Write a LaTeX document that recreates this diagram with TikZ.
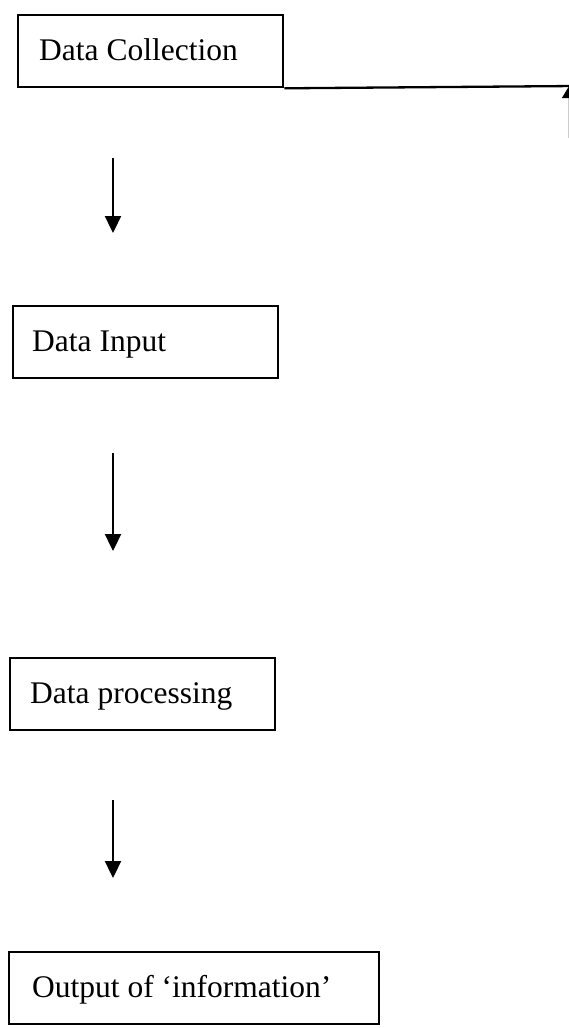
\documentclass[tikz,border=0pt]{standalone}
\usepackage{fontspec}
\setmainfont{Liberation Serif}
\usetikzlibrary{arrows.meta}
\tikzset{stagebox/.style={draw, line width=2.3pt, anchor=north west, inner sep=0pt,
    minimum height=72pt, minimum width=#1},
  stagetext/.style={anchor=base west, inner sep=0pt,
    font=\fontsize{31.5}{36}\selectfont},
  flowarrow/.style={line width=2.3pt, -{Triangle[length=17pt,width=16pt]}}}
\begin{document}
\begin{tikzpicture}[x=1pt,y=-1pt]
      \useasboundingbox (0,0) rectangle (569,1028);
      \node[stagebox=265pt] (collect) at (17,14) {};
      \node[stagebox=265pt] (input) at (12,305) {};
      \node[stagebox=265pt] (process) at (9,657) {};
      \node[stagebox=370pt] (output) at (8,951) {};
      \node[stagetext] (collecttxt) at ([xshift=22pt,yshift=-9pt]collect.west) {Data Collection};
      \node[stagetext] (inputtxt) at ([xshift=20pt,yshift=-9pt]input.west) {Data Input};
      \node[stagetext] (processtxt) at ([xshift=21pt,yshift=-9pt]process.west) {Data processing};
      \node[stagetext] (outputtxt) at ([xshift=24pt,yshift=-9pt]output.west) {Output of `information'};
      % free arrows between the stages
      \coordinate (a1) at (113,158); \coordinate (b1) at (113,233);
      \coordinate (a2) at (113,453); \coordinate (b2) at (113,551);
      \coordinate (a3) at (113,800); \coordinate (b3) at (113,878);
      \draw[flowarrow] (a1) -- (b1); \draw[flowarrow] (a2) -- (b2);
      \draw[flowarrow] (a3) -- (b3);
      % line running off to the right
      \coordinate (edge) at (575,86); \coordinate (up0) at (568.5,138);
      \coordinate (up1) at (568.5,87);
      \draw[line width=2.3pt] (collect.south east) -- (edge);
      \draw[gray!40, line width=0.8pt, -{Triangle[length=11pt,width=13pt,black]}] (up0) -- (up1);
    \end{tikzpicture}
\end{document}
